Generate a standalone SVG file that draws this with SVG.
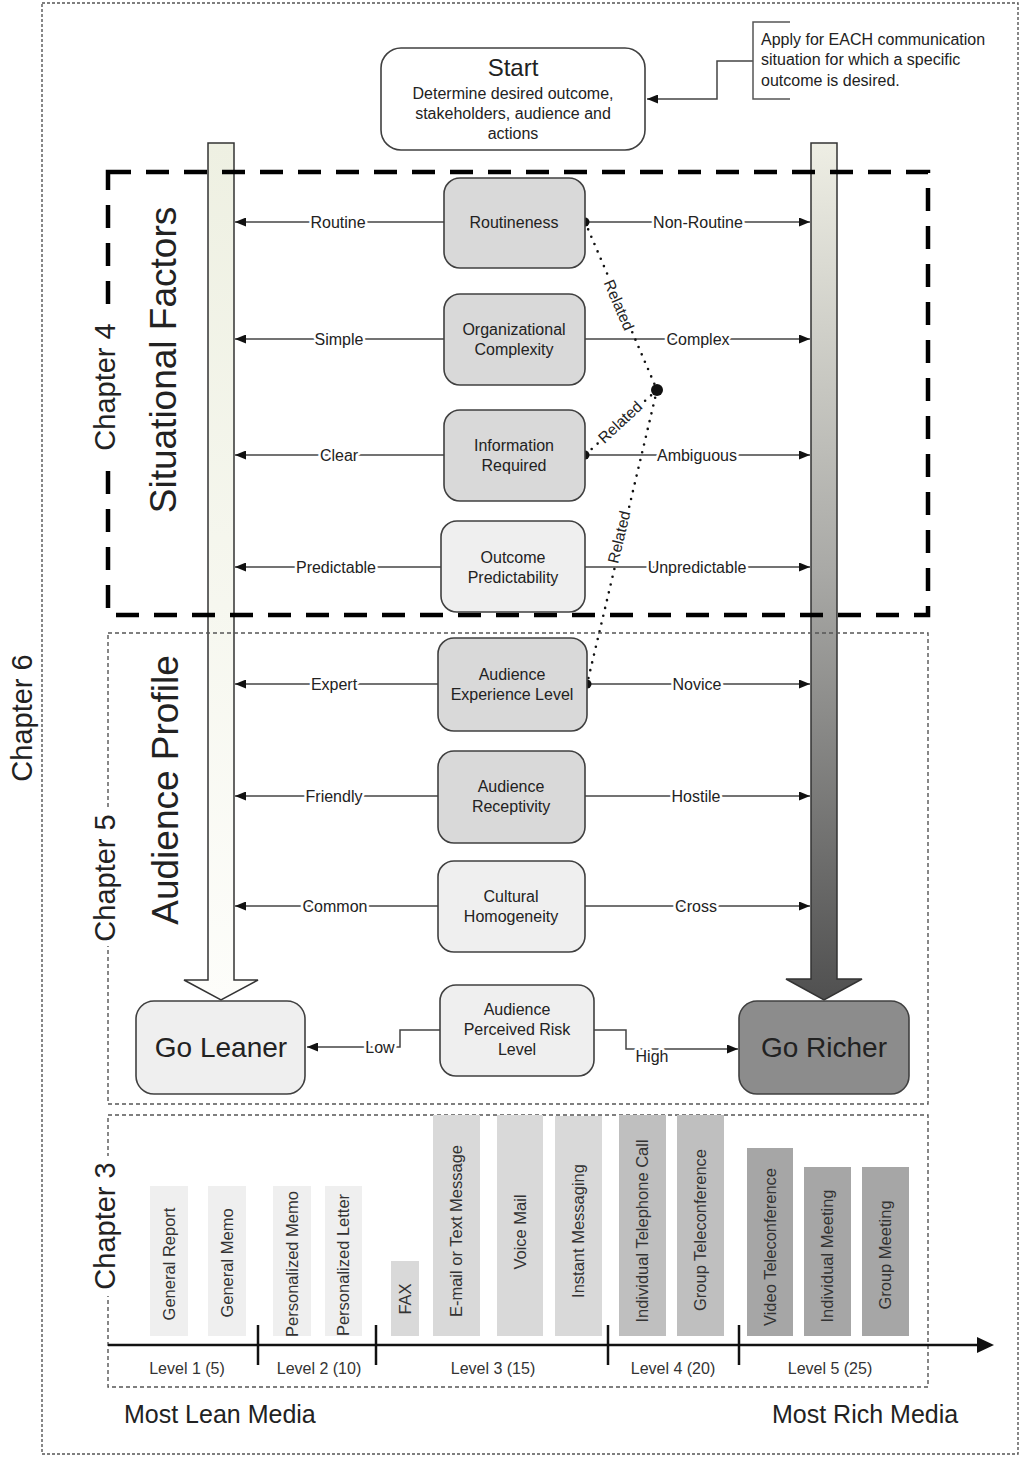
<svg xmlns="http://www.w3.org/2000/svg" width="1023" height="1457" viewBox="0 0 1023 1457">
<style>
.t{font-family:"Liberation Sans",Arial,sans-serif;font-size:16px;fill:#222;text-anchor:middle}
.lb{font-family:"Liberation Sans",Arial,sans-serif;font-size:16px;fill:#222;text-anchor:middle;stroke:#fff;stroke-width:5px;paint-order:stroke;stroke-linejoin:round}
.box{stroke:#404040;stroke-width:1.6}
.dk{fill:#d9d9d9}.lt{fill:#efefef}
.conn{stroke:#444;stroke-width:1.5;fill:none}
.dot{stroke:#111;stroke-width:2.6;stroke-dasharray:0 8;stroke-linecap:round;fill:none}
.ch{font-family:"Liberation Sans",Arial,sans-serif;font-size:29px;fill:#222;text-anchor:middle}
.big{font-family:"Liberation Sans",Arial,sans-serif;font-size:37px;fill:#222;text-anchor:middle}
.bar{font-family:"Liberation Sans",Arial,sans-serif;font-size:16.5px;fill:#333;text-anchor:middle}
.lvl{font-family:"Liberation Sans",Arial,sans-serif;font-size:16px;fill:#333;text-anchor:middle}
.thin{fill:none;stroke:#555;stroke-width:1.4;stroke-dasharray:4 3}
</style>
<defs>
<marker id="ah" markerUnits="userSpaceOnUse" markerWidth="11" markerHeight="9" refX="11" refY="4.5" orient="auto">
<path d="M0,0 L11,4.5 L0,9 Z" fill="#111"/>
</marker>
<linearGradient id="gl" gradientUnits="userSpaceOnUse" x1="0" y1="143" x2="0" y2="1000">
<stop offset="0" stop-color="#eef0e2"/><stop offset="1" stop-color="#fdfdfa"/>
</linearGradient>
<linearGradient id="gr" gradientUnits="userSpaceOnUse" x1="0" y1="143" x2="0" y2="1000">
<stop offset="0" stop-color="#eeeee4"/><stop offset="0.5" stop-color="#a9a9a6"/><stop offset="1" stop-color="#505050"/>
</linearGradient>
</defs>
<rect width="1023" height="1457" fill="#fff"/>

<!-- outer chapter 6 box -->
<rect x="42" y="3" width="976" height="1451" fill="none" stroke="#555" stroke-width="1.4" stroke-dasharray="3 2"/>
<text class="ch" transform="translate(22,718) rotate(-90)" dy="0.35em">Chapter 6</text>

<!-- big arrows -->
<g id="lean-arrow">
<path d="M208,143 L234,143 L234,980 L258,980 L221,1000 L184,980 L208,980 Z" fill="url(#gl)" stroke="#333" stroke-width="1.5"/>
</g>
<g id="rich-arrow">
<path d="M811,143 L837,143 L837,979 L862,979 L824,1000 L786,979 L811,979 Z" fill="url(#gr)" stroke="#333" stroke-width="1.5"/>
</g>

<!-- section boxes -->
<rect x="108" y="172" width="820" height="443" fill="none" stroke="#000" stroke-width="4.5" stroke-dasharray="23 15"/>
<rect x="108" y="633" width="820" height="471" class="thin"/>
<rect x="108" y="1115" width="820" height="272" class="thin"/>

<rect x="91" y="316" width="30" height="142" fill="#fff"/>
<text class="ch" transform="translate(105,387) rotate(-90)" dy="0.35em">Chapter 4</text>
<rect x="91" y="810" width="30" height="136" fill="#fff"/>
<text class="ch" transform="translate(105,878) rotate(-90)" dy="0.35em">Chapter 5</text>
<rect x="91" y="1156" width="30" height="140" fill="#fff"/>
<text class="ch" transform="translate(105,1226) rotate(-90)" dy="0.35em">Chapter 3</text>
<text class="big" transform="translate(163,360) rotate(-90)" dy="0.35em">Situational Factors</text>
<text class="big" transform="translate(165,790) rotate(-90)" dy="0.35em">Audience Profile</text>

<!-- connectors -->
<g id="connectors">
<polyline class="conn" points="753,61 717,61 717,99 647,99" marker-end="url(#ah)"/>
<line class="conn" x1="444" y1="222" x2="235" y2="222" marker-end="url(#ah)"/>
<line class="conn" x1="585" y1="222" x2="810" y2="222" marker-end="url(#ah)"/>
<line class="conn" x1="444" y1="339" x2="235" y2="339" marker-end="url(#ah)"/>
<line class="conn" x1="585" y1="339" x2="810" y2="339" marker-end="url(#ah)"/>
<line class="conn" x1="444" y1="455" x2="235" y2="455" marker-end="url(#ah)"/>
<line class="conn" x1="585" y1="455" x2="810" y2="455" marker-end="url(#ah)"/>
<line class="conn" x1="441" y1="567" x2="235" y2="567" marker-end="url(#ah)"/>
<line class="conn" x1="585" y1="567" x2="810" y2="567" marker-end="url(#ah)"/>
<line class="conn" x1="438" y1="684" x2="235" y2="684" marker-end="url(#ah)"/>
<line class="conn" x1="587" y1="684" x2="810" y2="684" marker-end="url(#ah)"/>
<line class="conn" x1="438" y1="796" x2="235" y2="796" marker-end="url(#ah)"/>
<line class="conn" x1="585" y1="796" x2="810" y2="796" marker-end="url(#ah)"/>
<line class="conn" x1="438" y1="906" x2="235" y2="906" marker-end="url(#ah)"/>
<line class="conn" x1="585" y1="906" x2="810" y2="906" marker-end="url(#ah)"/>
<polyline class="conn" points="440,1030 400,1030 400,1047 307,1047" marker-end="url(#ah)"/>
<polyline class="conn" points="594,1030 626,1030 626,1049 738,1049" marker-end="url(#ah)"/>

<text class="lb" x="338" y="228">Routine</text>
<text class="lb" x="698" y="228">Non-Routine</text>
<text class="lb" x="339" y="345">Simple</text>
<text class="lb" x="698" y="345">Complex</text>
<text class="lb" x="339" y="461">Clear</text>
<text class="lb" x="697" y="461">Ambiguous</text>
<text class="lb" x="336" y="573">Predictable</text>
<text class="lb" x="697" y="573">Unpredictable</text>
<text class="lb" x="334" y="690">Expert</text>
<text class="lb" x="697" y="690">Novice</text>
<text class="lb" x="334" y="802">Friendly</text>
<text class="lb" x="696" y="802">Hostile</text>
<text class="lb" x="335" y="912">Common</text>
<text class="lb" x="696" y="912">Cross</text>
<text class="lb" x="380" y="1053">Low</text>
<text class="lb" x="652" y="1062">High</text>

<!-- related dotted -->
<line class="dot" x1="585" y1="222" x2="657" y2="390"/>
<line class="dot" x1="657" y1="390" x2="585" y2="455"/>
<line class="dot" x1="657" y1="390" x2="587" y2="684"/>
<circle cx="585" cy="222" r="4.5" fill="#111"/>
<circle cx="657" cy="390" r="6" fill="#111"/>
<circle cx="585" cy="455" r="4.5" fill="#111"/>
<circle cx="587" cy="684" r="4.5" fill="#111"/>
<text class="lb" style="font-size:15.5px" transform="translate(619,305) rotate(66.7)" dy="0.35em">Related</text>
<text class="lb" style="font-size:15.5px" transform="translate(620,422) rotate(-43)" dy="0.35em">Related</text>
<text class="lb" style="font-size:15.5px" transform="translate(619,537) rotate(-76.6)" dy="0.35em">Related</text>
</g>

<!-- annotation -->
<g id="note">
<polyline points="790,22 753,22 753,99 790,99" fill="none" stroke="#555" stroke-width="1.5"/>
<text class="t" style="text-anchor:start" x="761" y="45">Apply for EACH communication</text>
<text class="t" style="text-anchor:start" x="761" y="65">situation for which a specific</text>
<text class="t" style="text-anchor:start" x="761" y="86">outcome is desired.</text>
</g>

<g id="start">
<rect x="381" y="48" width="264" height="102" rx="20" fill="#fff" class="box"/>
<text class="t" style="font-size:24px" x="513" y="76">Start</text>
<text class="t" x="513" y="99">Determine desired outcome,</text>
<text class="t" x="513" y="119">stakeholders, audience and</text>
<text class="t" x="513" y="139">actions</text>
</g>

<g id="routineness">
<rect x="444" y="178" width="141" height="90" rx="16" class="box dk"/>
<text class="t" x="514" y="228">Routineness</text>
</g>
<g id="org-complexity">
<rect x="444" y="294" width="141" height="91" rx="16" class="box dk"/>
<text class="t" x="514" y="335">Organizational</text>
<text class="t" x="514" y="355">Complexity</text>
</g>
<g id="info-required">
<rect x="444" y="410" width="141" height="91" rx="16" class="box dk"/>
<text class="t" x="514" y="451">Information</text>
<text class="t" x="514" y="471">Required</text>
</g>
<g id="outcome-predictability">
<rect x="441" y="521" width="144" height="91" rx="16" class="box lt"/>
<text class="t" x="513" y="563">Outcome</text>
<text class="t" x="513" y="583">Predictability</text>
</g>
<g id="audience-experience">
<rect x="438" y="638" width="149" height="93" rx="16" class="box dk"/>
<text class="t" x="512" y="680">Audience</text>
<text class="t" x="512" y="700">Experience Level</text>
</g>
<g id="audience-receptivity">
<rect x="438" y="751" width="147" height="92" rx="16" class="box dk"/>
<text class="t" x="511" y="792">Audience</text>
<text class="t" x="511" y="812">Receptivity</text>
</g>
<g id="cultural-homogeneity">
<rect x="438" y="861" width="147" height="91" rx="16" class="box lt"/>
<text class="t" x="511" y="902">Cultural</text>
<text class="t" x="511" y="922">Homogeneity</text>
</g>
<g id="perceived-risk">
<rect x="440" y="985" width="154" height="91" rx="16" class="box lt"/>
<text class="t" x="517" y="1015">Audience</text>
<text class="t" x="517" y="1035">Perceived Risk</text>
<text class="t" x="517" y="1055">Level</text>
</g>
<g id="go-leaner">
<rect x="136" y="1001" width="169" height="93" rx="18" class="box lt"/>
<text class="t" style="font-size:28px" x="221" y="1057">Go Leaner</text>
</g>
<g id="go-richer">
<rect x="739" y="1001" width="170" height="93" rx="18" class="box" fill="#8c8c8c"/>
<text class="t" style="font-size:28px" x="824" y="1057">Go Richer</text>
</g>

<!-- media chart -->
<g id="media">
<rect x="150" y="1186" width="38" height="150" fill="#efefef"/>
<rect x="208" y="1186" width="38" height="150" fill="#efefef"/>
<rect x="273" y="1186" width="38" height="150" fill="#efefef"/>
<rect x="325" y="1186" width="37" height="150" fill="#efefef"/>
<rect x="391" y="1261" width="28" height="75" fill="#d9d9d9"/>
<rect x="433" y="1115" width="47" height="221" fill="#d9d9d9"/>
<rect x="497" y="1115" width="46" height="221" fill="#d9d9d9"/>
<rect x="555" y="1116" width="47" height="220" fill="#d9d9d9"/>
<rect x="619" y="1115" width="47" height="221" fill="#bfbfbf"/>
<rect x="677" y="1115" width="47" height="221" fill="#bfbfbf"/>
<rect x="747" y="1148" width="46" height="188" fill="#a6a6a6"/>
<rect x="804" y="1167" width="47" height="169" fill="#a6a6a6"/>
<rect x="862" y="1167" width="47" height="169" fill="#a6a6a6"/>
<text class="bar" transform="translate(169,1264) rotate(-90)" dy="0.35em">General Report</text>
<text class="bar" transform="translate(227,1263) rotate(-90)" dy="0.35em">General Memo</text>
<text class="bar" transform="translate(292,1264) rotate(-90)" dy="0.35em">Personalized Memo</text>
<text class="bar" transform="translate(343,1265) rotate(-90)" dy="0.35em">Personalized Letter</text>
<text class="bar" transform="translate(405,1299) rotate(-90)" dy="0.35em">FAX</text>
<text class="bar" transform="translate(456,1231) rotate(-90)" dy="0.35em">E-mail or Text Message</text>
<text class="bar" transform="translate(520,1232) rotate(-90)" dy="0.35em">Voice Mail</text>
<text class="bar" transform="translate(578,1231) rotate(-90)" dy="0.35em">Instant Messaging</text>
<text class="bar" transform="translate(642,1231) rotate(-90)" dy="0.35em">Individual Telephone Call</text>
<text class="bar" transform="translate(700,1230) rotate(-90)" dy="0.35em">Group Teleconference</text>
<text class="bar" transform="translate(770,1247) rotate(-90)" dy="0.35em">Video Teleconference</text>
<text class="bar" transform="translate(827,1256) rotate(-90)" dy="0.35em">Individual Meeting</text>
<text class="bar" transform="translate(885,1255) rotate(-90)" dy="0.35em">Group Meeting</text>
<line x1="108" y1="1345" x2="980" y2="1345" stroke="#111" stroke-width="2.5"/>
<polygon points="977,1337 994,1345 977,1353" fill="#111"/>
<g stroke="#111" stroke-width="2.5">
<line x1="258" y1="1325" x2="258" y2="1365"/>
<line x1="376" y1="1325" x2="376" y2="1365"/>
<line x1="608" y1="1325" x2="608" y2="1365"/>
<line x1="739" y1="1325" x2="739" y2="1365"/>
</g>
<text class="lvl" x="187" y="1374">Level 1 (5)</text>
<text class="lvl" x="319" y="1374">Level 2 (10)</text>
<text class="lvl" x="493" y="1374">Level 3 (15)</text>
<text class="lvl" x="673" y="1374">Level 4 (20)</text>
<text class="lvl" x="830" y="1374">Level 5 (25)</text>
</g>
<text class="t" style="font-size:25px;text-anchor:start" x="124" y="1423">Most Lean Media</text>
<text class="t" style="font-size:25px;text-anchor:start" x="772" y="1423">Most Rich Media</text>
</svg>
